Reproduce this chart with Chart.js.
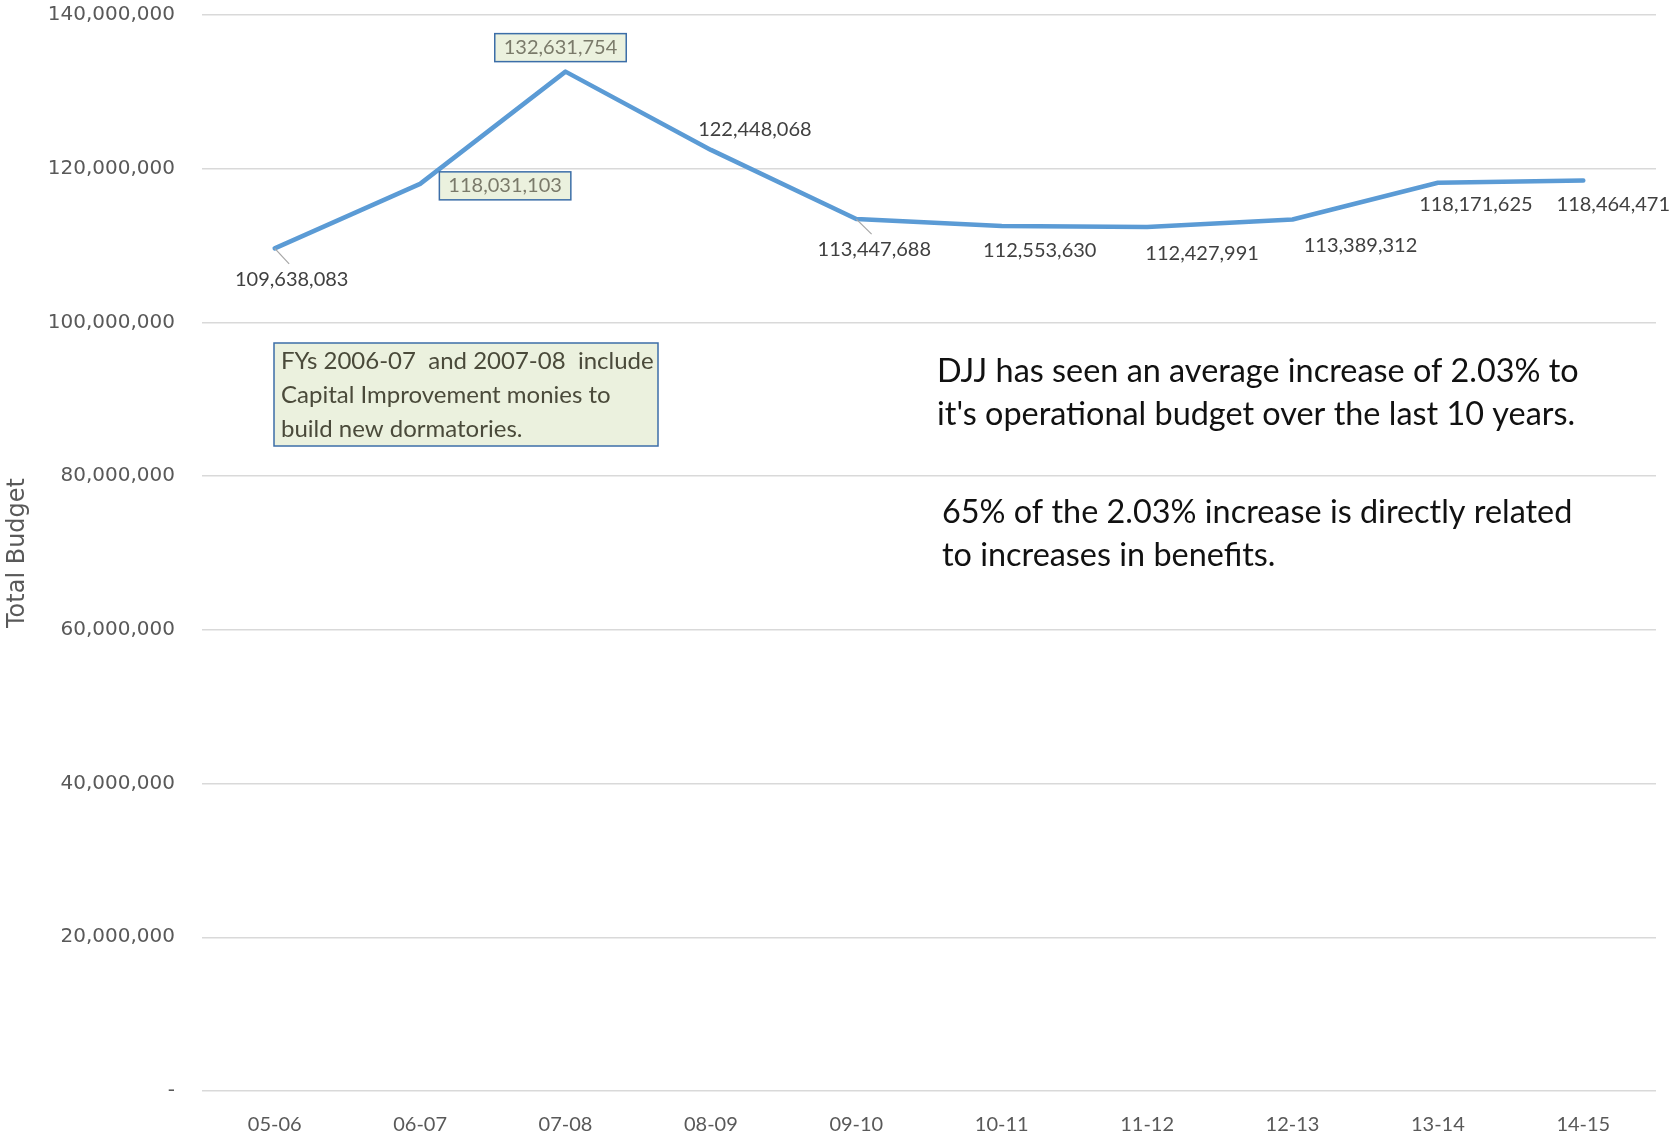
<!DOCTYPE html>
<html>
<head>
<meta charset="utf-8">
<script src="https://cdn.jsdelivr.net/npm/chart.js@4/dist/chart.umd.min.js"></script>
<style>
  html, body { margin: 0; padding: 0; background: #fff; }
  #wrap { width: 1669px; height: 1138px; position: relative; }
</style>
</head>
<body>
<div id="wrap"><canvas id="c"></canvas></div>
<script>
// ---- data ----
const categories = ['05-06', '06-07', '07-08', '08-09', '09-10', '10-11', '11-12', '12-13', '13-14', '14-15'];
const budget = [109638083, 118031103, 132631754, 122448068, 113447688, 112553630, 112427991, 113389312, 118171625, 118464471];
const yMin = 0;
const yMax = 140000000;
const yStep = 20000000;
const axisTitle = 'Total Budget';
const noteLines = ['FYs 2006-07  and 2007-08  include', 'Capital Improvement monies to', 'build new dormatories.'];
const commentA = ['DJJ has seen an average increase of 2.03% to', "it's operational budget over the last 10 years."];
const commentB = ['65% of the 2.03% increase is directly related', 'to increases in benefits.'];
const boxedLabels = [1, 2];
const leaderLabels = [0, 4];

// ---- label placement (pixel offsets from each point) ----
const labelOffsets = [[17, 31], [85, 2], [-5, -24], [44, -20], [18, 30], [38, 25], [55, 27], [68, 26], [38, 22], [30, 24]];

const fmt = v => v.toLocaleString('en-US');

const labelPlugin = {
  id: 'labels',
  afterDatasetsDraw(chart) {
    const ctx = chart.ctx;
    const meta = chart.getDatasetMeta(0);
    ctx.save();
    ctx.font = '20px Lato';
    ctx.textAlign = 'center';
    ctx.textBaseline = 'middle';
    meta.data.forEach((pt, i) => {
      const [dx, dy] = labelOffsets[i];
      const lx = pt.x + dx, ly = pt.y + dy;
      const txt = fmt(budget[i]);
      if (leaderLabels.includes(i)) {
        ctx.strokeStyle = '#A6A6A6';
        ctx.lineWidth = 1.2;
        ctx.beginPath();
        ctx.moveTo(pt.x, pt.y);
        ctx.lineTo(pt.x + dx * 0.85, pt.y + dy * 0.5);
        ctx.stroke();
      }
      if (boxedLabels.includes(i)) {
        const w = ctx.measureText(txt).width + 18;
        const h = 28;
        ctx.fillStyle = '#EBF1DE';
        ctx.fillRect(lx - w / 2, ly - h / 2, w, h);
        ctx.strokeStyle = '#3C6EA8';
        ctx.lineWidth = 1.5;
        ctx.strokeRect(lx - w / 2, ly - h / 2, w, h);
        ctx.fillStyle = '#7A7A6A';
      } else {
        ctx.fillStyle = '#404040';
      }
      ctx.fillText(txt, lx, ly);
    });
    ctx.restore();
  },
  afterDraw(chart) {
    const ctx = chart.ctx;
    const a = chart.chartArea;
    ctx.save();
    // note box
    const bx = a.left + 72, by = a.top + 328, bw = 384, bh = 103;
    ctx.fillStyle = '#EBF1DE';
    ctx.fillRect(bx, by, bw, bh);
    ctx.strokeStyle = '#3C6EA8';
    ctx.lineWidth = 1.5;
    ctx.strokeRect(bx, by, bw, bh);
    ctx.fillStyle = '#4A4A3A';
    ctx.font = '24px Lato';
    ctx.textAlign = 'left';
    ctx.textBaseline = 'middle';
    noteLines.forEach((t, i) => ctx.fillText(t, bx + 7, by + 18 + i * 34));
    // comments
    ctx.fillStyle = '#111';
    ctx.font = '32.4px Lato';
    commentA.forEach((t, i) => ctx.fillText(t, a.left + 735, a.top + 357 + i * 43));
    commentB.forEach((t, i) => ctx.fillText(t, a.left + 740, a.top + 498 + i * 43));
    ctx.restore();
  }
};

new Chart(document.getElementById('c'), {
  type: 'line',
  data: {
    labels: categories,
    datasets: [{
      data: budget,
      borderColor: '#5B9BD5',
      borderWidth: 4.5,
      pointRadius: 0,
      tension: 0,
      borderJoinStyle: 'round',
      borderCapStyle: 'round',
      fill: false
    }]
  },
  options: {
    responsive: true,
    maintainAspectRatio: false,
    animation: false,
    layout: { padding: { top: 15, right: 13, left: 0, bottom: 0 } },
    plugins: { legend: { display: false }, tooltip: { enabled: false } },
    scales: {
      x: {
        offset: true,
        grid: { display: false, drawTicks: false },
        border: { display: false },
        ticks: { color: '#595959', font: { family: 'Lato', size: 20 }, padding: 22, maxRotation: 0 },
        afterFit(s) { s.height = 47; s.paddingLeft = 0; s.paddingRight = 0; }
      },
      y: {
        min: yMin,
        max: yMax,
        border: { display: false },
        grid: { color: '#D9D9D9', lineWidth: 1.5, drawTicks: false },
        ticks: {
          stepSize: yStep,
          color: '#595959',
          font: { family: 'DejaVu Sans', size: 20 },
          padding: 27,
          callback: v => v === 0 ? '-' : fmt(v)
        },
        title: {
          display: true,
          text: axisTitle,
          color: '#595959',
          font: { family: 'DejaVu Sans', size: 24 },
          padding: { top: 3, bottom: 0 }
        },
        afterFit(s) { s.width = 202; s.paddingTop = 0; s.paddingBottom = 0; }
      }
    }
  },
  plugins: [labelPlugin]
});
</script>
</body>
</html>
